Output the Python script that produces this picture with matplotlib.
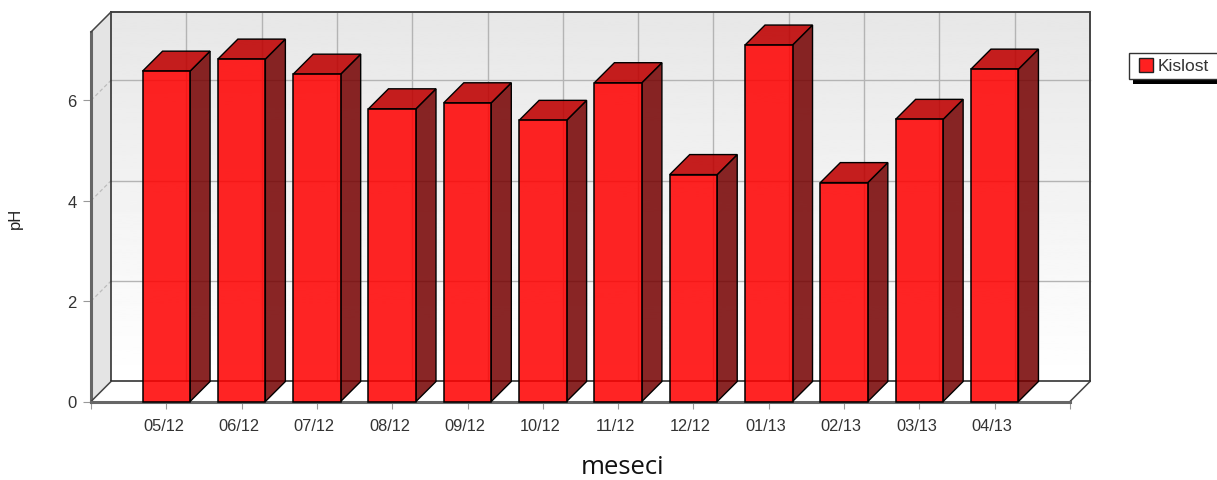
import matplotlib
matplotlib.use('Agg')
import matplotlib.pyplot as plt
from matplotlib.patches import Polygon, Rectangle
from matplotlib.transforms import ScaledTranslation
import numpy as np

months = ['05/12', '06/12', '07/12', '08/12', '09/12', '10/12',
          '11/12', '12/12', '01/13', '02/13', '03/13', '04/13']
kislost = [6.58, 6.82, 6.52, 5.83, 5.95, 5.60, 6.35, 4.52, 7.10, 4.36, 5.62, 6.62]
y_ticks = [0, 2, 4, 6]

W, H = 1217, 481
fig = plt.figure(figsize=(W / 100, H / 100), dpi=100)
plt.rcParams['font.family'] = ['Liberation Sans', 'DejaVu Sans']

# front plane of the fake 3d box
ax = fig.add_axes([91 / W, (H - 402.5) / H, 979 / W, 369.5 / H])
ymax = 7.36
xmax = 13
ax.set_xlim(0, xmax)
ax.set_ylim(0, ymax)
for s in ax.spines.values():
    s.set_visible(False)

# depth of the box and bars, in data units
dx = 20 / 75.3
dy = 20 / 50.2
dark = '#444444'

# back wall with gradient
grad = np.linspace(0.905, 1, 200).reshape(-1, 1)
ax.imshow(grad, cmap='gray', vmin=0, vmax=1, aspect='auto', origin='upper',
          extent=[dx, xmax + dx, dy, ymax + dy], clip_on=False, zorder=1)

# left wall
ax.add_patch(Polygon([(0, 0), (dx, dy), (dx, ymax + dy), (0, ymax)], closed=True,
                     fc='#e4e4e4', ec='none', clip_on=False, zorder=1))

# floor
ax.add_patch(Polygon([(0, 0), (xmax, 0), (xmax + dx, dy), (dx, dy)], closed=True,
                     fc='white', ec='none', clip_on=False, zorder=1))

# grid on the walls
for v in y_ticks[1:]:
    ax.plot([dx, xmax + dx], [v + dy, v + dy], color='#b4b4b4', lw=1.0, clip_on=False, zorder=2)
    ax.plot([0, dx], [v, v + dy], color='#bcbcbc', lw=0.9, ls=(0, (3, 2)), clip_on=False, zorder=2)
for k in range(1, 13):
    ax.plot([k + dx, k + dx], [dy, ymax + dy], color='#b4b4b4', lw=1.0, clip_on=False, zorder=2)

# box outline
ax.plot([dx, xmax + dx, xmax + dx], [ymax + dy, ymax + dy, dy],
        color=dark, lw=1.4, clip_on=False, zorder=3, solid_joinstyle='miter')
ax.plot([0, 0], [0, ymax], color='#666666', lw=2.2, clip_on=False, zorder=3)
ax.plot([dx, dx], [dy, ymax + dy], color='#222222', lw=1.1, clip_on=False, zorder=3)
ax.plot([dx, xmax + dx], [dy, dy], color='#222222', lw=1.1, clip_on=False, zorder=3)
ax.plot([0, dx], [ymax, ymax + dy], color=dark, lw=1.1, clip_on=False, zorder=3)
ax.plot([0, dx], [0, dy], color=dark, lw=1.1, clip_on=False, zorder=3)
ax.plot([xmax, xmax + dx], [0, dy], color=dark, lw=1.1, clip_on=False, zorder=3)
ax.plot([0, xmax], [0, 0], color='#666666', lw=2.2, clip_on=False, zorder=3)

# bars
xpos = np.arange(1, 13)
bw = 47.5 / 75.3
for i, (x, v) in enumerate(zip(xpos, kislost)):
    l = x - bw / 2
    r = x + bw / 2
    z = 5 + i * 0.01
    ax.add_patch(Polygon([(r, 0), (r + dx, dy), (r + dx, v + dy), (r, v)], closed=True,
                         fc=(0.46, 0.0, 0.0, 0.85), ec='black', lw=1.0, clip_on=False, zorder=z))
    ax.add_patch(Polygon([(l, v), (r, v), (r + dx, v + dy), (l + dx, v + dy)], closed=True,
                         fc=(0.75, 0.0, 0.0, 0.88), ec='black', lw=1.0, clip_on=False, zorder=z))
    ax.bar(x, v, width=bw, color=(1.0, 0.0, 0.0, 0.86), edgecolor='black', linewidth=1.1,
           clip_on=False, zorder=z + 0.005)

# ticks
ax.set_xticks(np.arange(0, 14))
ax.set_xticklabels([''] + months + [''], fontsize=11.8, color='#333333')
ax.set_yticks(y_ticks)
ax.set_yticklabels([str(v) for v in y_ticks], fontsize=12, color='#333333')
ax.tick_params(axis='x', length=5, width=0.8, color='#999999', pad=7)
ax.tick_params(axis='y', length=5.5, width=0.8, color='#999999', pad=5)
shift = ScaledTranslation(-2 / 72, 0, fig.dpi_scale_trans)
for lab in ax.get_xticklabels():
    lab.set_transform(lab.get_transform() + shift)

# axis titles
fig.text(15.5 / W, (H - 218) / H, 'pH', rotation=90, ha='center', va='center',
         fontsize=12, color='#222222')
fig.text(623 / W, (H - 467.5) / H, 'meseci', ha='center', va='center', fontsize=18.5,
         color='#111111', family=['Open Sans', 'DejaVu Sans'])

# legend, runs off the right edge like the original
def px_rect(x0, y0, x1, y1, **kw):
    fig.add_artist(Rectangle((x0 / W, (H - y1) / H), (x1 - x0) / W, (y1 - y0) / H,
                             transform=fig.transFigure, **kw))

px_rect(1133, 60, 1222, 85, fc='black', ec='none')
px_rect(1129, 53.5, 1222, 80, fc='white', ec='#333333', lw=1)
px_rect(1138.5, 59, 1153, 73, fc='#ff2020', ec='#222222', lw=1)
fig.text(1158 / W, (H - 67) / H, 'Kislost', ha='left', va='center', fontsize=12.5, color='#333333')

fig.savefig('out.png', dpi=100)
